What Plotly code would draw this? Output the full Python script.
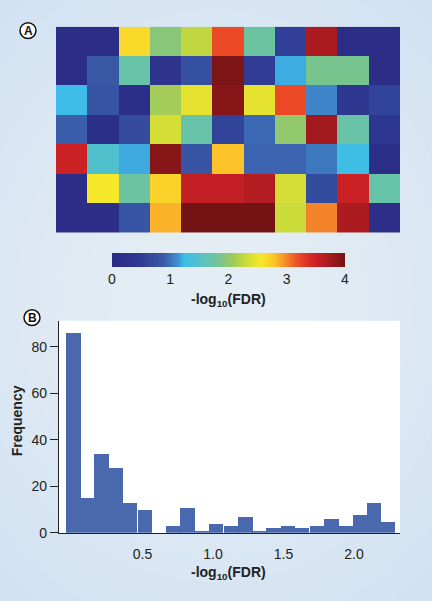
import plotly.graph_objects as go

W, H = 432, 601

# ---------------- data ----------------
heat_values = [
    [0.10, 0.10, 2.65, 1.95, 2.25, 3.20, 1.75, 0.55, 3.70, 0.10, 0.10],
    [0.10, 0.85, 1.70, 0.30, 0.75, 3.95, 0.50, 1.20, 1.85, 1.85, 0.10],
    [1.25, 0.80, 0.15, 2.10, 2.45, 3.90, 2.45, 3.20, 1.08, 0.40, 0.60],
    [0.90, 0.15, 0.70, 2.35, 1.70, 0.60, 0.95, 2.00, 3.75, 1.72, 0.40],
    [3.50, 1.45, 1.19, 3.90, 0.80, 2.80, 0.92, 0.92, 1.02, 1.27, 0.15],
    [0.10, 2.55, 1.75, 2.70, 3.55, 3.55, 3.65, 2.35, 0.70, 3.50, 1.70],
    [0.10, 0.10, 0.80, 2.85, 4.00, 4.00, 4.00, 2.30, 3.00, 3.70, 0.12],
]
heat_cols = list(range(11))
heat_rows = list(range(7))
colorbar_ticks = [0, 1, 2, 3, 4]

bin_centers = [0.01, 0.11, 0.21, 0.31, 0.41, 0.52, 0.62, 0.72, 0.82, 0.92, 1.02, 1.13,
               1.23, 1.33, 1.43, 1.53, 1.63, 1.74, 1.84, 1.94, 2.04, 2.14, 2.24]
frequency = [86, 15, 34, 28, 13, 10, 0, 3, 11, 1, 4, 3, 7, 1, 2, 3, 2, 3, 6, 3, 8, 13, 5]
bin_width = 0.1016
hist_xticks = [0.5, 1.0, 1.5, 2.0]
hist_xticklabels = ["0.5", "1.0", "1.5", "2.0"]
hist_yticks = [0, 20, 40, 60, 80]

# ---------------- style ----------------
FONT = "Liberation Sans, Arial, Helvetica, sans-serif"
TXT = "#222222"
FS = 14
colorscale = [
    [0.00, "#2b2a83"],
    [0.12, "#2f3a92"],
    [0.22, "#3a5aa8"],
    [0.28, "#3f8dd0"],
    [0.31, "#3cbde9"],
    [0.40, "#5fc4b8"],
    [0.45, "#70c39a"],
    [0.52, "#9fcb5b"],
    [0.58, "#cfdc37"],
    [0.64, "#f7e82a"],
    [0.70, "#fbc22a"],
    [0.74, "#f5902a"],
    [0.80, "#ec4a26"],
    [0.86, "#d52327"],
    [0.93, "#a81a1f"],
    [1.00, "#741314"],
]


def px(x):
    return x / W


def py(y):
    return 1 - y / H


fig = go.Figure()

fig.add_trace(go.Heatmap(
    z=heat_values, x=heat_cols, y=heat_rows, zmin=0, zmax=4,
    colorscale=colorscale, xaxis="x", yaxis="y", hoverinfo="z",
    colorbar=dict(
        orientation="h", x=px(228.5), xanchor="center", y=py(256), yanchor="top",
        len=233 / W, lenmode="fraction", thickness=14, thicknessmode="pixels",
        outlinewidth=0, xpad=0, ypad=0, tickvals=colorbar_ticks, ticks="",
        tickfont=dict(size=FS, color=TXT, family=FONT),
    ),
))

fig.add_trace(go.Bar(
    x=bin_centers, y=frequency, width=bin_width,
    marker=dict(color="#4a68ad", line=dict(width=0)),
    xaxis="x2", yaxis="y2", showlegend=False,
))

shapes = []
# light-blue background with a soft lighter centre
cx, cy = 215, 300
n = 12
for i in range(n):
    f = 1 - i / n
    rx, ry = 60 + 280 * f, 70 + 330 * f
    shapes.append(dict(type="circle", xref="paper", yref="paper",
                       x0=px(cx - rx), x1=px(cx + rx), y0=py(cy + ry), y1=py(cy - ry),
                       fillcolor="rgba(255,255,255,0.06)", line=dict(width=0), layer="below"))
# white plot area of histogram
shapes.append(dict(type="rect", xref="paper", yref="paper",
                   x0=px(59), x1=px(400), y0=py(540), y1=py(325),
                   fillcolor="white", line=dict(width=0), layer="below"))
# circled panel labels
for (lx, ly) in [(28, 31), (32, 322)]:
    shapes.append(dict(type="circle", xref="paper", yref="paper",
                       x0=px(lx - 8), x1=px(lx + 8), y0=py(ly + 8), y1=py(ly - 8),
                       fillcolor="white", line=dict(color="#111", width=1.5), layer="above"))

ann_common = dict(xref="paper", yref="paper", showarrow=False, xanchor="center", yanchor="middle")
annotations = [
    dict(text="<b>A</b>", x=px(28), y=py(31), font=dict(size=12, color="#111", family=FONT), **ann_common),
    dict(text="<b>B</b>", x=px(32), y=py(322), font=dict(size=12, color="#111", family=FONT), **ann_common),
    dict(text="<b>-log<sub>10</sub>(FDR)</b>", x=px(228), y=py(304),
         font=dict(size=FS, color=TXT, family=FONT), **ann_common),
    dict(text="<b>-log<sub>10</sub>(FDR)</b>", x=px(228), y=py(581),
         font=dict(size=FS, color=TXT, family=FONT), **ann_common),
    dict(text="<b>Frequency</b>", x=px(17), y=py(427), textangle=-90,
         font=dict(size=FS, color=TXT, family=FONT), **ann_common),
]

fig.update_layout(
    width=W, height=H,
    margin=dict(l=0, r=0, t=0, b=0),
    paper_bgcolor="#cfe1f3",
    plot_bgcolor="rgba(0,0,0,0)",
    showlegend=False,
    bargap=0,
    font=dict(family=FONT, color=TXT, size=FS),
    shapes=shapes,
    annotations=annotations,
    xaxis=dict(domain=[px(56), px(400)], range=[-0.5, 10.5], visible=False, anchor="y"),
    yaxis=dict(domain=[py(236), py(27)], range=[6.5, -0.5], visible=False, anchor="x"),
    xaxis2=dict(domain=[px(59), px(400)], anchor="y2", range=[-0.092, 2.326],
                tickvals=hist_xticks, ticktext=hist_xticklabels, ticks="",
                ticklabelstandoff=8,
                showline=True, linecolor=TXT, linewidth=1.2, showgrid=False, zeroline=False,
                tickfont=dict(size=FS, color=TXT, family=FONT)),
    yaxis2=dict(domain=[py(540), py(325)], anchor="x2", range=[0, 91.2],
                tickvals=hist_yticks, ticks="outside", ticklen=8, tickcolor=TXT, tickwidth=1.2,
                showline=True, linecolor=TXT, linewidth=1.2, showgrid=False, zeroline=False,
                tickfont=dict(size=FS, color=TXT, family=FONT)),
)

fig.write_html("out.html", config={"displayModeBar": False},
               post_script="document.body.style.margin='0';")
